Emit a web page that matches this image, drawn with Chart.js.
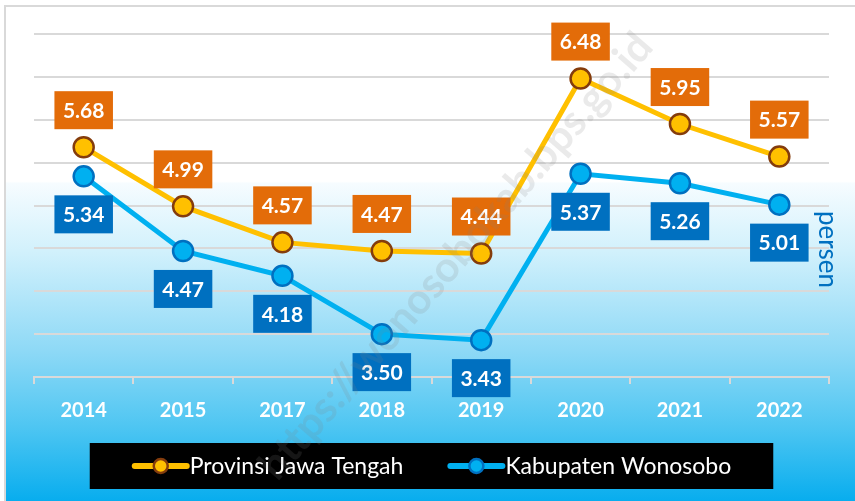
<!DOCTYPE html>
<html>
<head>
<meta charset="utf-8">
<script src="https://cdn.jsdelivr.net/npm/chart.js@4"></script>
<style>
  html, body { margin: 0; padding: 0; background: #fff; }
  #chart { display: block; }
</style>
</head>
<body>
<canvas id="chart" width="855" height="501"></canvas>
<script>
// data
const years = ['2014', '2015', '2017', '2018', '2019', '2020', '2021', '2022'];
const jawaTengah = [5.68, 4.99, 4.57, 4.47, 4.44, 6.48, 5.95, 5.57];
const wonosobo = [5.34, 4.47, 4.18, 3.50, 3.43, 5.37, 5.26, 5.01];
const seriesNames = ['Provinsi Jawa Tengah', 'Kabupaten Wonosobo'];
const yMin = 3, yMax = 7, yStep = 0.5;
const unitLabel = 'persen';
const watermark = 'https://wonosobokab.bps.go.id';

// latar belakang gradien + bingkai
const bgPlugin = {
    id: 'bg',
    beforeDraw(chart) {
        const {ctx, width, height} = chart;
        const g = ctx.createLinearGradient(0, 0, 0, height);
        g.addColorStop(0, '#ffffff');
        g.addColorStop(0.362, '#ffffff');
        g.addColorStop(0.366, '#f6fcff');
        g.addColorStop(0.5, '#d2f1fc');
        g.addColorStop(0.7, '#8ed9f6');
        g.addColorStop(0.85, '#4fc6f2');
        g.addColorStop(1, '#08adee');
        ctx.save();
        ctx.fillStyle = '#ffffff';
        ctx.fillRect(0, 0, width, height);
        ctx.fillStyle = g;
        ctx.fillRect(5, 6, width, height);
        ctx.strokeStyle = '#d9d9d9';
        ctx.lineWidth = 2;
        ctx.beginPath();
        ctx.moveTo(5, height);
        ctx.lineTo(5, 6);
        ctx.lineTo(width, 6);
        ctx.stroke();
        ctx.restore();
    }
};

// label nilai dalam kotak
const boxLabels = {
    id: 'boxLabels',
    afterDatasetsDraw(chart) {
        const ctx = chart.ctx;
        ctx.save();
        ctx.font = 'bold 21px Lato';
        ctx.textAlign = 'center';
        ctx.textBaseline = 'middle';
        chart.data.datasets.forEach((ds, i) => {
            const meta = chart.getDatasetMeta(i);
            meta.data.forEach((pt, j) => {
                const txt = ds.data[j].toFixed(2);
                const w = ctx.measureText(txt).width + 17;
                const h = 38;
                const top = ds.labelPos === 'above' ? pt.y - 18 - h : pt.y + 19;
                ctx.fillStyle = ds.labelBg;
                ctx.fillRect(pt.x - w / 2, top, w, h);
                ctx.fillStyle = '#ffffff';
                ctx.fillText(txt, pt.x, top + h / 2 + 1);
            });
        });
        ctx.restore();
    }
};

// legenda kotak hitam, satuan, watermark
const extras = {
    id: 'extras',
    afterDraw(chart) {
        const {ctx, chartArea, width, height} = chart;
        ctx.save();

        // satuan
        ctx.save();
        ctx.translate(chartArea.right - 2, (chartArea.top + chartArea.bottom) / 2 + 44);
        ctx.rotate(Math.PI / 2);
        ctx.font = '26px Lato';
        ctx.fillStyle = '#0070C0';
        ctx.textAlign = 'center';
        ctx.textBaseline = 'middle';
        ctx.fillText(unitLabel, 0, 0);
        ctx.restore();

        // legenda
        ctx.font = '23px Lato';
        const iconW = 58, gap = 44, pad = 42;
        const items = chart.data.datasets.map(ds => ({
            label: ds.label,
            line: ds.borderColor,
            fill: ds.pointBackgroundColor,
            stroke: ds.pointBorderColor,
            tw: ctx.measureText(ds.label).width
        }));
        const total = items.reduce((s, it) => s + iconW + it.tw, 0) + gap * (items.length - 1);
        const cx = (chartArea.left + chartArea.right) / 2;
        const cy = height - 35;
        ctx.fillStyle = '#000000';
        ctx.fillRect(cx - total / 2 - pad, cy - 23, total + pad * 2, 46);
        let x = cx - total / 2;
        items.forEach(it => {
            ctx.strokeStyle = it.line;
            ctx.lineWidth = 6;
            ctx.lineCap = 'round';
            ctx.beginPath();
            ctx.moveTo(x + 3, cy);
            ctx.lineTo(x + iconW - 3, cy);
            ctx.stroke();
            ctx.beginPath();
            ctx.arc(x + iconW / 2, cy, 7, 0, Math.PI * 2);
            ctx.fillStyle = it.fill;
            ctx.fill();
            ctx.lineWidth = 2.5;
            ctx.strokeStyle = it.stroke;
            ctx.stroke();
            ctx.fillStyle = '#ffffff';
            ctx.textAlign = 'left';
            ctx.textBaseline = 'middle';
            ctx.fillText(it.label, x + iconW, cy + 1);
            x += iconW + it.tw + gap;
        });

        // watermark
        ctx.translate(655, 48);
        ctx.rotate(-49 * Math.PI / 180);
        ctx.font = 'bold 42px Lato';
        ctx.fillStyle = 'rgba(130,130,130,0.17)';
        ctx.textAlign = 'right';
        ctx.textBaseline = 'alphabetic';
        ctx.fillText(watermark, 0, 0);

        ctx.restore();
    }
};

window.onload = () => {
    const ctx = document.getElementById('chart').getContext('2d');
    new Chart(ctx, {
        type: 'line',
        data: {
            labels: years,
            datasets: [{
                label: seriesNames[0],
                data: jawaTengah,
                borderColor: '#FFC000',
                backgroundColor: '#FFC000',
                borderWidth: 5,
                pointRadius: 10,
                pointBackgroundColor: '#FFC000',
                pointBorderColor: '#843C0C',
                pointBorderWidth: 2.5,
                tension: 0,
                labelBg: '#E36C09',
                labelPos: 'above'
            }, {
                label: seriesNames[1],
                data: wonosobo,
                borderColor: '#00B0F0',
                backgroundColor: '#00B0F0',
                borderWidth: 5,
                pointRadius: 10,
                pointBackgroundColor: '#00B0F0',
                pointBorderColor: '#0070C0',
                pointBorderWidth: 2.5,
                tension: 0,
                labelBg: '#0070C0',
                labelPos: 'below'
            }]
        },
        options: {
            responsive: false,
            animation: false,
            layout: {
                padding: {left: 34, right: 26, top: 34, bottom: 63}
            },
            scales: {
                x: {
                    offset: true,
                    grid: {
                        display: true,
                        drawOnChartArea: false,
                        drawTicks: true,
                        tickLength: 7,
                        offset: true,
                        color: '#d9d9d9',
                        lineWidth: 2
                    },
                    border: {display: true, color: '#d9d9d9', width: 2},
                    ticks: {
                        color: '#ffffff',
                        font: {family: 'Lato', weight: 'bold', size: 20},
                        padding: 15
                    }
                },
                y: {
                    min: yMin,
                    max: yMax,
                    ticks: {display: false, stepSize: yStep},
                    grid: {color: '#d9d9d9', lineWidth: 2, drawTicks: false},
                    border: {display: false}
                }
            },
            plugins: {
                legend: {display: false},
                tooltip: {enabled: false}
            }
        },
        plugins: [bgPlugin, boxLabels, extras]
    });
}
</script>
</body>
</html>
